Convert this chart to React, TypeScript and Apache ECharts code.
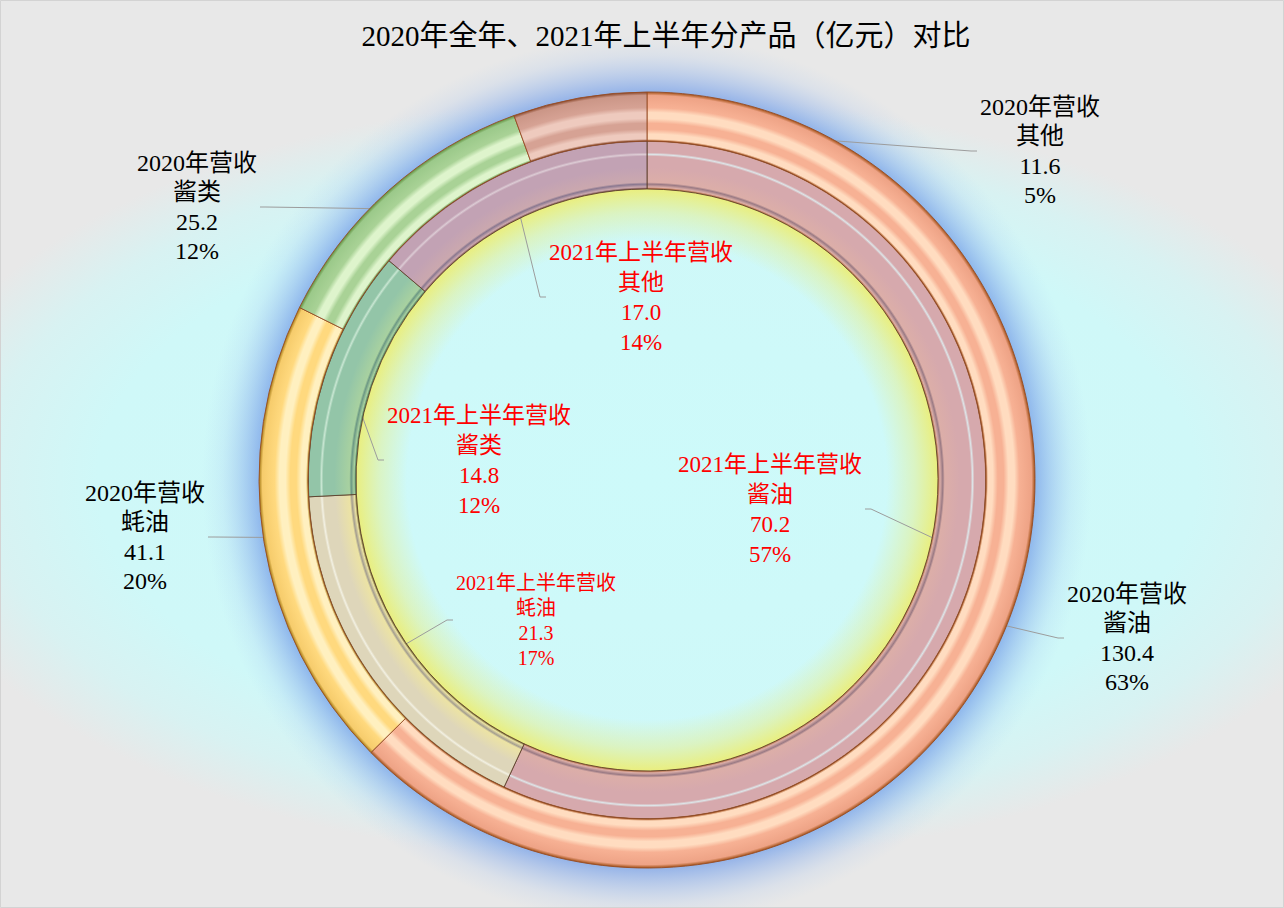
import { useEffect, useRef } from 'react';
import * as echarts from 'echarts';

// ---- data ----
const TITLE = '2020年全年、2021年上半年分产品（亿元）对比';
const PRODUCTS = ['酱油', '蚝油', '酱类', '其他'];
const SERIES_2020 = '2020年营收';
const SERIES_2021H1 = '2021年上半年营收';
const REVENUE_2020 = [130.4, 41.1, 25.2, 11.6];
const REVENUE_2021H1 = [70.2, 21.3, 14.8, 17.0];

// ---- layout ----
const W = 1284;
const H = 908;
const CX = 647;
const CY = 480;
const R_HOLE = 291;
const R_MID = 339;
const R_OUT = 388;

// label block centres, in product order
const LABEL_POS_2020 = [[1127, 638], [145, 537], [197, 207], [1040, 151]];
const LABEL_POS_2021H1 = [[770, 509], [536, 620], [479, 460], [641, 297]];
const LABEL_SIZE_2021H1 = [23, 20, 23, 23];

const FONT = '"Liberation Serif", "Times New Roman", "Noto Sans CJK SC", serif';

// ---- ring shading ----
type OuterTone = { dark: string; base: string; light: string; deep: string };
type InnerTone = { edge: string; groove: string; base: string; inner: string; line: string };

const OUTER_TONES: OuterTone[] = [
  { dark: '#b3632f', base: '#f7b194', light: '#ffdcc0', deep: '#eea386' },
  { dark: '#b58a26', base: '#ffd97e', light: '#fff0c0', deep: '#f6cc6c' },
  { dark: '#6c9a4c', base: '#a9d296', light: '#def4cc', deep: '#9bc98a' },
  { dark: '#95563c', base: '#d6a294', light: '#eecabe', deep: '#cb9687' },
];

const INNER_TONES: InnerTone[] = [
  { edge: '#b4693c', groove: '#9a7a84', base: '#d6a9ad', inner: '#dcaea8', line: '#dde5e8' },
  { edge: '#6e6430', groove: '#a49e90', base: '#ded6ba', inner: '#ece3a4', line: '#f2f0e2' },
  { edge: '#3f6e52', groove: '#6c9884', base: '#93c5a8', inner: '#a8d1a0', line: '#c8e6d2' },
  { edge: '#7c5050', groove: '#8a7890', base: '#c2a2b4', inner: '#cba8ae', line: '#dccbd4' },
];

function outerFill(t: OuterTone) {
  const span = R_OUT - R_MID;
  const at = (f: number) => (R_MID + f * span) / R_OUT;
  return {
    type: 'radial', x: CX, y: CY, r: R_OUT, global: true,
    colorStops: [
      { offset: 0, color: t.base },
      { offset: at(0), color: t.dark },
      { offset: at(0.04), color: t.light },
      { offset: at(0.14), color: t.light },
      { offset: at(0.24), color: t.base },
      { offset: at(0.36), color: t.base },
      { offset: at(0.46), color: t.light },
      { offset: at(0.58), color: t.light },
      { offset: at(0.68), color: t.base },
      { offset: at(0.93), color: t.deep },
      { offset: at(0.985), color: t.dark },
      { offset: 1, color: t.dark },
    ],
  };
}

function innerFill(t: InnerTone) {
  const span = R_MID - R_HOLE;
  const at = (f: number) => (R_HOLE + f * span) / R_MID;
  return {
    type: 'radial', x: CX, y: CY, r: R_MID, global: true,
    colorStops: [
      { offset: 0, color: t.inner },
      { offset: at(0), color: t.edge },
      { offset: at(0.04), color: t.inner },
      { offset: at(0.1), color: t.groove },
      { offset: at(0.14), color: t.inner },
      { offset: at(0.45), color: t.base },
      { offset: at(0.68), color: t.base },
      { offset: at(0.72), color: t.line },
      { offset: at(0.76), color: t.base },
      { offset: at(0.97), color: t.base },
      { offset: 1, color: t.edge },
    ],
  };
}

// mid angle of every slice, clockwise from 12 o'clock
function midAngles(values: number[]) {
  const total = values.reduce((a, b) => a + b, 0);
  let acc = 0;
  return values.map((v) => {
    const m = ((acc + v / 2) / total) * Math.PI * 2;
    acc += v;
    return m;
  });
}

function makeLabelLayout(values: number[], positions: number[][], rAnchor: number) {
  const mids = midAngles(values);
  return (params: any) => {
    const i = params.dataIndex;
    const [lx, ly] = positions[i];
    const a = mids[i];
    const ax = CX + rAnchor * Math.sin(a);
    const ay = CY - rAnchor * Math.cos(a);
    const w = params.labelRect ? params.labelRect.width : 100;
    const side = ax < lx ? -1 : 1;
    const ex = lx + side * (w / 2 + 3);
    const bx = ex + side * 6;
    return {
      x: lx,
      y: ly,
      align: 'center',
      verticalAlign: 'middle',
      labelLinePoints: [[ax, ay], [bx, ly], [ex, ly]],
    };
  };
}

const formatLabel = (p: any) =>
  `${p.seriesName}\n${p.name}\n${Number(p.value).toFixed(1)}\n${p.percent}%`;

const labelLine = {
  show: true,
  showAbove: true,
  length: 10,
  length2: 5,
  smooth: false,
  lineStyle: { color: '#9c9c9c', width: 1 },
};

const innerData = PRODUCTS.map((name, i) => ({
  name,
  value: REVENUE_2021H1[i],
  itemStyle: { color: innerFill(INNER_TONES[i]) },
  label: { fontSize: LABEL_SIZE_2021H1[i], lineHeight: LABEL_SIZE_2021H1[i] < 23 ? 25 : 30 },
}));

const outerData = PRODUCTS.map((name, i) => ({
  name,
  value: REVENUE_2020[i],
  itemStyle: { color: outerFill(OUTER_TONES[i]) },
}));

const option: any = {
  animation: false,
  backgroundColor: '#e8e8e8',
  graphic: [
    {
      type: 'rect',
      z: 0,
      silent: true,
      shape: { x: CX - 947, y: CY - 480, width: 1894, height: 960 },
      style: {
        fill: {
          type: 'radial', x: 0.5, y: 0.5, r: 0.5,
          colorStops: [
            { offset: 0, color: '#cdfafa' },
            { offset: 0.58, color: '#cff8f8' },
            { offset: 0.7, color: '#d8f2f2' },
            { offset: 0.8, color: '#e8e8e8' },
            { offset: 1, color: '#e8e8e8' },
          ],
        },
      },
    },
    {
      type: 'circle',
      z: 1,
      silent: true,
      shape: { cx: CX, cy: CY, r: 460 },
      style: {
        fill: {
          type: 'radial', x: CX, y: CY, r: 460, global: true,
          colorStops: [
            { offset: 0, color: 'rgba(238,236,110,0)' },
            { offset: 240 / 460, color: 'rgba(238,236,110,0)' },
            { offset: 268 / 460, color: 'rgba(238,236,108,0.38)' },
            { offset: 291 / 460, color: 'rgba(240,236,96,0.8)' },
            { offset: 340 / 460, color: 'rgba(180,195,200,0.6)' },
            { offset: 388 / 460, color: 'rgba(122,162,232,0.75)' },
            { offset: 403 / 460, color: 'rgba(135,172,235,0.5)' },
            { offset: 425 / 460, color: 'rgba(160,192,240,0.18)' },
            { offset: 445 / 460, color: 'rgba(175,205,240,0)' },
            { offset: 1, color: 'rgba(175,205,240,0)' },
          ],
        },
      },
    },
    {
      type: 'text',
      z: 10,
      silent: true,
      style: {
        text: TITLE,
        x: 666,
        y: 36,
        align: 'center',
        verticalAlign: 'middle',
        fill: '#000000',
        fontSize: 29,
        fontFamily: FONT,
      },
    },
    {
      type: 'rect',
      z: 100,
      silent: true,
      shape: { x: 0.5, y: 0.5, width: W - 1, height: H - 1 },
      style: { fill: 'none', stroke: '#d3d3d3', lineWidth: 1 },
    },
  ],
  series: [
    {
      type: 'pie',
      name: SERIES_2021H1,
      center: [CX, CY],
      radius: [R_HOLE, R_MID],
      startAngle: 90,
      clockwise: true,
      percentPrecision: 0,
      avoidLabelOverlap: false,
      silent: true,
      itemStyle: { borderColor: 'rgba(90,60,40,0.85)', borderWidth: 1 },
      label: {
        show: true,
        position: 'outside',
        formatter: formatLabel,
        color: '#ff0000',
        fontFamily: FONT,
        fontSize: 23,
        lineHeight: 30,
        align: 'center',
      },
      labelLine,
      labelLayout: makeLabelLayout(REVENUE_2021H1, LABEL_POS_2021H1, (R_HOLE + R_MID) / 2),
      data: innerData,
    },
    {
      type: 'pie',
      name: SERIES_2020,
      center: [CX, CY],
      radius: [R_MID, R_OUT],
      startAngle: 90,
      clockwise: true,
      percentPrecision: 0,
      avoidLabelOverlap: false,
      silent: true,
      itemStyle: { borderColor: 'rgba(150,75,35,0.9)', borderWidth: 1 },
      label: {
        show: true,
        position: 'outside',
        formatter: formatLabel,
        color: '#000000',
        fontFamily: FONT,
        fontSize: 24,
        lineHeight: 29.5,
        align: 'center',
      },
      labelLine,
      labelLayout: makeLabelLayout(REVENUE_2020, LABEL_POS_2020, (R_MID + R_OUT) / 2),
      data: outerData,
    },
  ],
};

export default function App() {
  const ref = useRef<HTMLDivElement>(null);
  useEffect(() => {
    if (!ref.current) return;
    const chart = echarts.init(ref.current, undefined, { renderer: 'svg' });
    chart.setOption(option);
    return () => chart.dispose();
  }, []);
  return (
    <div
      ref={ref}
      style={{ position: 'fixed', left: 0, top: 0, width: W, height: H }}
    />
  );
}
